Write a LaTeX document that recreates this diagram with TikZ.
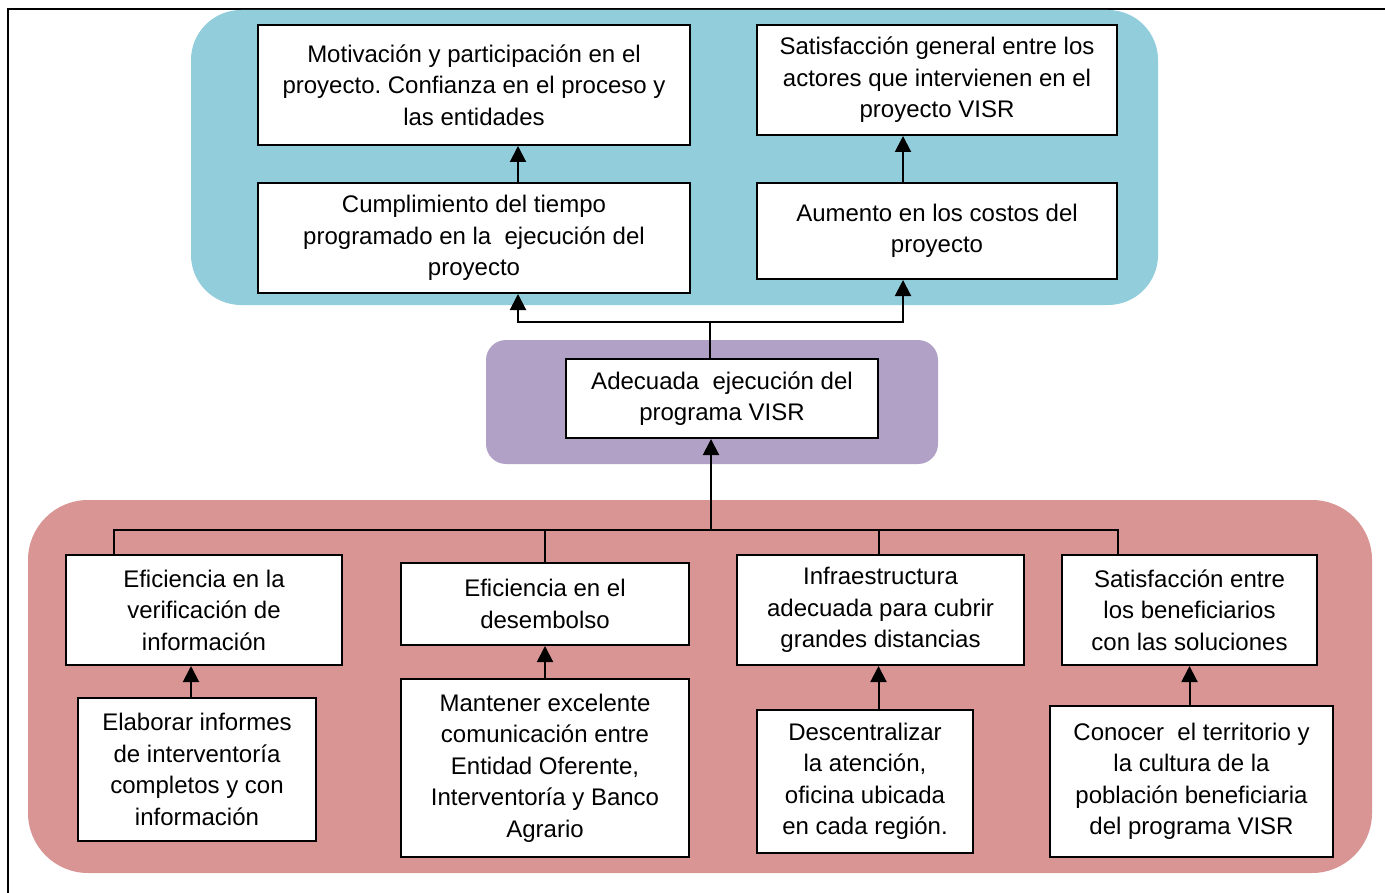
\documentclass[tikz,border=0pt]{standalone}
\usepackage{fontspec}
\setmainfont{Liberation Sans}
\usepackage{tikz}
\usetikzlibrary{positioning,arrows.meta,calc}
\frenchspacing
\definecolor{azul}{HTML}{92CDDC}
\definecolor{lila}{HTML}{B2A1C7}
\definecolor{rojo}{HTML}{D99594}
\tikzset{
  zona/.style  ={fill=#1, draw=none},
  caja/.style  ={draw=black, fill=white, line width=1pt, align=center, inner sep=0pt,
                 font=\fontsize{12pt}{15.75pt}\selectfont},
  linea/.style ={line width=1pt},
  flecha/.style={-{Triangle[length=8pt,width=8pt]}, line width=1pt},
}
\begin{document}
\begin{tikzpicture}[x=0.5pt,y=-0.5pt]
\useasboundingbox (0,0) rectangle (1385,893);
% marco
\draw[line width=1pt] (8,893) -- (8,9) -- (1385,9);
% zonas de fondo
\fill[zona=azul, rounded corners=25pt] (191,10) rectangle (1158,305);
\fill[zona=lila, rounded corners=10pt] (486,340) rectangle (938,464);
\fill[zona=rojo, rounded corners=30pt] (28,500) rectangle (1372,873);
% efectos
\node[caja, minimum width=216pt, minimum height=60pt] (mot) at (474,85)
  {Motivación y participación en el\\proyecto. Confianza en el proceso y\\las entidades};
\node[caja, minimum width=180pt, minimum height=55pt] (sat) at (937,80)
  {Satisfacción general entre los\\actores que intervienen en el\\proyecto VISR};
\node[caja, minimum width=216pt, minimum height=55pt] (cum) at (474,238)
  {Cumplimiento del tiempo\\programado en la\ \ ejecución del\\proyecto};
\node[caja, minimum width=180pt, minimum height=48pt] (aum) at (937,231)
  {Aumento en los costos del\\proyecto};
% objetivo central
\node[caja, minimum width=156pt, minimum height=39.5pt] (ade) at (722,398.5)
  {Adecuada\ \ ejecución del\\programa VISR};
% medios
\node[caja, minimum width=138pt, minimum height=55pt] (ef1) at (204,610)
  {Eficiencia en la\\verificación de\\información};
\node[caja, minimum width=144pt, minimum height=41pt] (ef2) at (545,604)
  {Eficiencia en el\\desembolso};
\node[caja, minimum width=143.5pt, minimum height=55pt] (ef3) at (880.5,610)
  {Infraestructura\\adecuada para cubrir\\grandes distancias};
\node[caja, minimum width=127.5pt, minimum height=55pt] (ef4) at (1189.5,610)
  {Satisfacción entre\\los beneficiarios\\con las soluciones};
% acciones
\node[caja, minimum width=119pt, minimum height=71.5pt] (inf) at (197,769.5)
  {Elaborar informes\\de interventoría\\completos y con\\información};
\node[caja, minimum width=144pt, minimum height=89pt] (man) at (545,768)
  {Mantener excelente\\comunicación entre\\Entidad Oferente,\\Interventoría y Banco\\Agrario};
\node[caja, minimum width=108pt, minimum height=71.5pt] (des) at (865,781.5)
  {Descentralizar\\la atención,\\oficina ubicada\\en cada región.};
\node[caja, minimum width=141.5pt, minimum height=75.5pt] (con) at (1191.5,781.5)
  {Conocer\ \ el territorio y\\la cultura de la\\población beneficiaria\\del programa VISR};
% conectores arriba
\draw[flecha] ([xshift=22pt]cum.north) -- ([xshift=22pt]mot.south);
\draw[flecha] ([xshift=-17pt]aum.north) -- ([xshift=-17pt]sat.south);
\coordinate (split) at (710,322);
\draw[linea] ([xshift=-6pt]ade.north) -- (split);
\draw[flecha] (split) -| ([xshift=22pt]cum.south);
\draw[flecha] (split) -| ([xshift=-17pt]aum.south);
% conectores abajo
\coordinate (bus) at (711,530);
\draw[flecha] (bus) -- ([xshift=-5.5pt]ade.south);
\draw[linea] ([xshift=-45pt]ef1.north) |- (bus) -| ([xshift=-36pt]ef4.north);
\draw[linea] (ef2.north) -- (ef2.north |- bus);
\draw[linea] ([xshift=-1pt]ef3.north) -- ([xshift=-1pt]ef3.north |- bus);
\draw[flecha] ([xshift=-3pt]inf.north) -- ([xshift=-3pt]inf.north |- ef1.south);
\draw[flecha] (man.north) -- (ef2.south);
\draw[flecha] ([xshift=-1pt]ef3.south |- des.north) -- ([xshift=-1pt]ef3.south);
\draw[flecha] (con.north -| ef4.south) -- (ef4.south);
\end{tikzpicture}
\end{document}
